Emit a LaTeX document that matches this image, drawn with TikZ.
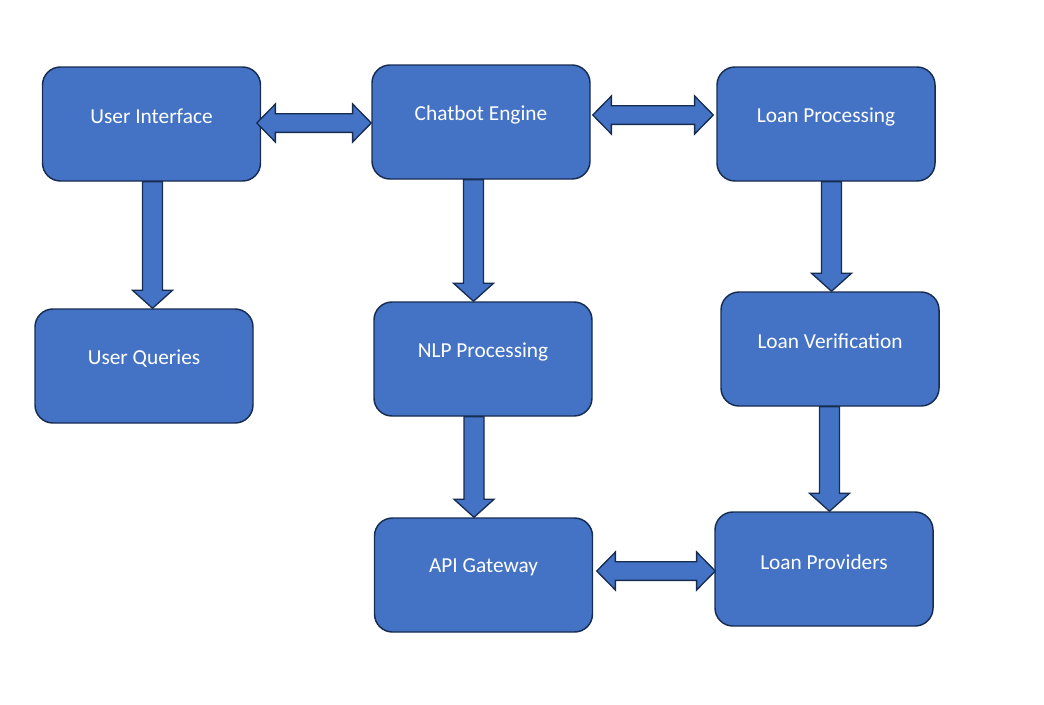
\documentclass[tikz,border=0pt]{standalone}
\usepackage{fontspec}
\setmainfont{Carlito}
\usetikzlibrary{calc}

\definecolor{boxblue}{HTML}{4472C4}
\definecolor{boxline}{HTML}{172C51}

\tikzset{
  block/.style={draw=boxline, fill=boxblue, line width=1.1pt, rounded corners=13.5pt,
    minimum width=163.5pt, minimum height=85.5pt, inner sep=0pt},
  blocktext/.style={text=white, font=\fontsize{16}{19}\selectfont, yshift=5.5pt},
  fatarrow/.style={draw=boxline, fill=boxblue, line width=1pt, line join=miter}
}

% fat arrow pointing down, from #1 to the level of #2
\newcommand{\downfat}[2]{%
  \draw[fatarrow] let \p1=(#1), \p2=(#2) in
    (\x1-7.5pt,\y1) -- (\x1-7.5pt,\y2+13.5pt) -- (\x1-15pt,\y2+13.5pt) -- (\x1,\y2)
    -- (\x1+15pt,\y2+13.5pt) -- (\x1+7.5pt,\y2+13.5pt) -- (\x1+7.5pt,\y1) -- cycle;}

% fat arrow with two heads, from #1 to #2 (same level)
\newcommand{\bothfat}[2]{%
  \draw[fatarrow] let \p1=(#1), \p2=(#2) in
    (\x1,\y1) -- (\x1+14pt,\y1+14.25pt) -- (\x1+14pt,\y1+7pt) -- (\x2-14pt,\y1+7pt)
    -- (\x2-14pt,\y1+14.25pt) -- (\x2,\y1) -- (\x2-14pt,\y1-14.25pt) -- (\x2-14pt,\y1-7pt)
    -- (\x1+14pt,\y1-7pt) -- (\x1+14pt,\y1-14.25pt) -- cycle;}

\begin{document}
\begin{tikzpicture}[x=0.75pt, y=-0.75pt]
      \useasboundingbox (0,0) rectangle (1044,704);
      % boxes
      \node[block, label={[blocktext]center:User Interface}] (ui) at (151.5,124) {};
      \node[block, label={[blocktext]center:Chatbot Engine}] (ce) at (481,122) {};
      \node[block, label={[blocktext]center:Loan Processing}] (lp) at (826,124) {};
      \node[block, label={[blocktext]center:User Queries}] (uq) at (144,366) {};
      \node[block, label={[blocktext]center:NLP Processing}] (nlp) at (483,359) {};
      \node[block, label={[blocktext]center:Loan Verification}] (lv) at (830,349) {};
      \node[block, label={[blocktext]center:API Gateway}] (api) at (483.5,575) {};
      \node[block, label={[blocktext]center:Loan Providers}] (lpr) at (824,569) {};
      % arrows
      \downfat{$(ui.south)+(1,0)$}{uq.north}
      \downfat{$(ce.south)+(-7.5,0)$}{nlp.north}
      \downfat{$(nlp.south)+(-9,0)$}{api.north}
      \downfat{$(lp.south)+(5.5,0)$}{lv.north}
      \downfat{$(lv.south)+(-0.5,0)$}{lpr.north}
      \bothfat{$(ui.east)+(-4.5,-1)$}{ce.west}
      \bothfat{$(ce.east)+(2,-7)$}{$(lp.west)+(-3,0)$}
      \bothfat{$(api.east)+(3.5,-4)$}{$(lpr.west)+(1,0)$}
\end{tikzpicture}
\end{document}
